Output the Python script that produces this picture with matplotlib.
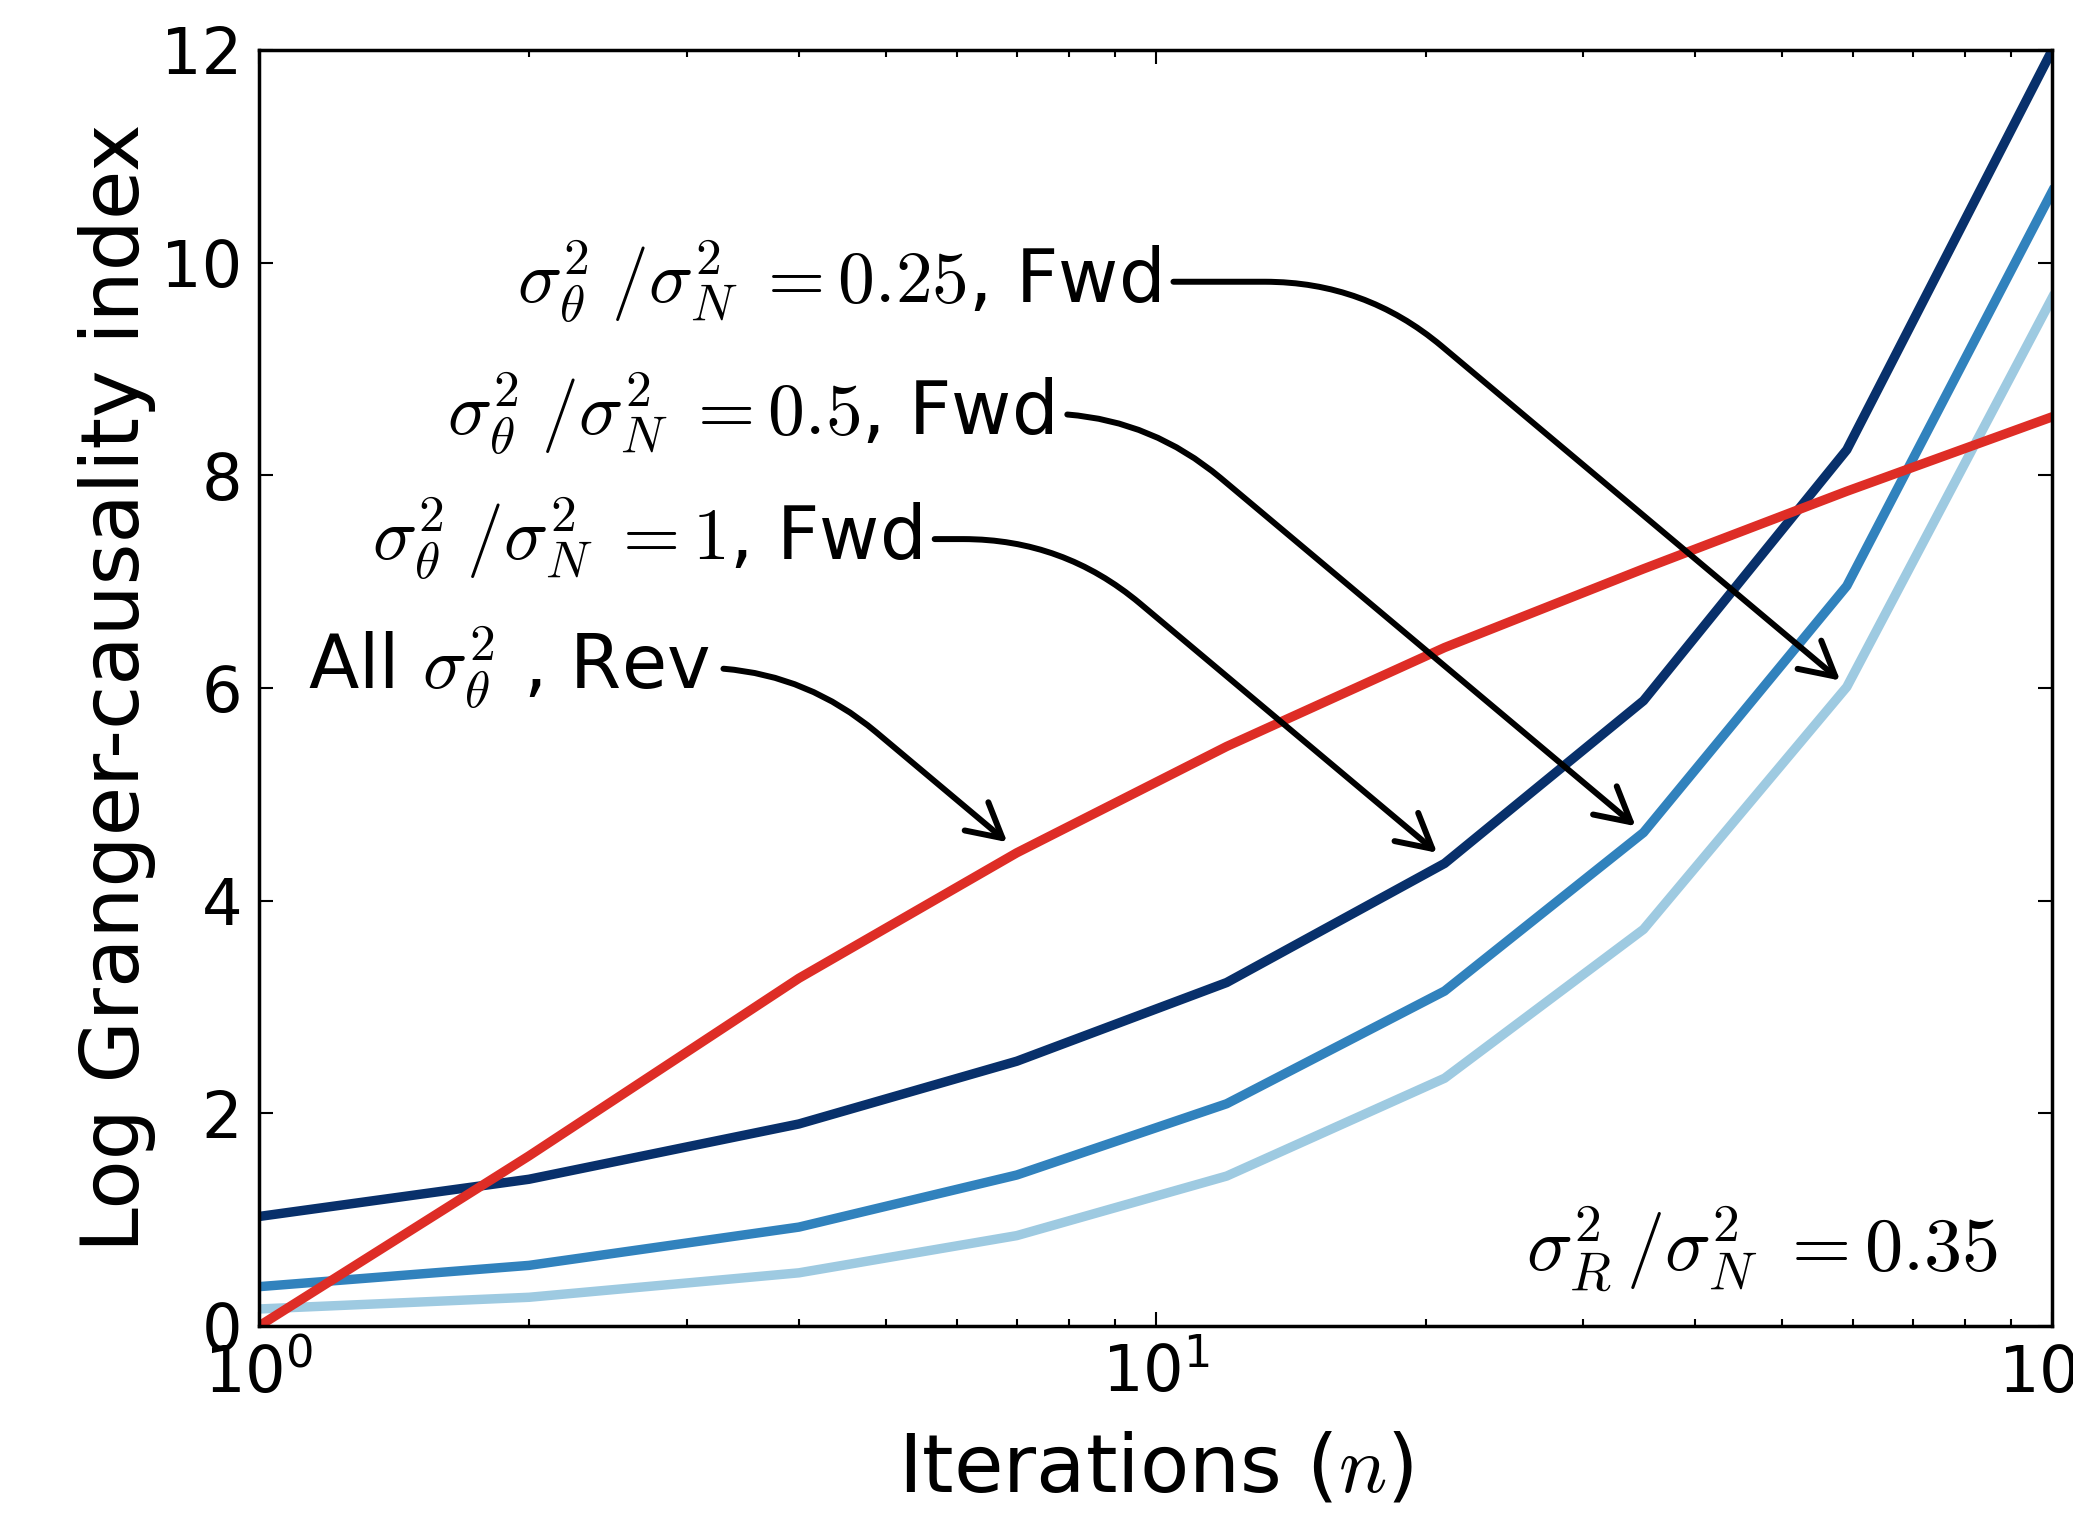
import numpy as np
import matplotlib
matplotlib.use('Agg')
import matplotlib.pyplot as plt

plt.rcParams['mathtext.fontset'] = 'cm'
plt.rcParams['font.family'] = 'DejaVu Sans'

# iterations and log Granger-causality values
n_iter = [1, 2, 4, 7, 12, 21, 35, 59, 100]
gc_fwd_025 = [1.03, 1.38, 1.90, 2.49, 3.23, 4.35, 5.88, 8.24, 12.0]
gc_fwd_05 = [0.37, 0.57, 0.93, 1.42, 2.09, 3.15, 4.64, 6.96, 10.67]
gc_fwd_1 = [0.16, 0.27, 0.50, 0.85, 1.41, 2.33, 3.73, 6.01, 9.67]
gc_rev = [0.0, 1.60, 3.27, 4.45, 5.45, 6.38, 7.12, 7.85, 8.55]

# annotations: label, text anchor (x, y), arrow tip (x, y)
ann_labels = [r'$\sigma_\theta^2\;/\sigma_N^2\;{=}0.25$, Fwd',
              r'$\sigma_\theta^2\;/\sigma_N^2\;{=}0.5$, Fwd',
              r'$\sigma_\theta^2\;/\sigma_N^2\;{=}1$, Fwd',
              r'All $\sigma_\theta^2$ , Rev']
ann_text = [(10.1, 9.82), (7.69, 8.58), (5.47, 7.40), (3.18, 6.19)]
ann_tip = [(58.0, 6.07), (34.3, 4.70), (20.6, 4.45), (6.83, 4.55)]

fig = plt.figure(figsize=(20.73, 15.13), dpi=100)
ax = fig.add_axes([0.125, 0.1236, 0.865, 0.8434])

ax.plot(n_iter, gc_fwd_025, '-', color='#08306b', lw=6.8)
ax.plot(n_iter, gc_fwd_05, '-', color='#3182bd', lw=6.8)
ax.plot(n_iter, gc_fwd_1, '-', color='#9ecae1', lw=6.8)
ax.plot(n_iter, gc_rev, '-', color='#de2d26', lw=6.8)

ax.set_xscale('log')
ax.set_xlim(1, 100)
ax.set_ylim(0, 12)
ax.set_yticks(range(0, 13, 2))

for lab, xt, xy in zip(ann_labels, ann_text, ann_tip):
    ax.annotate(lab, xy=xy, xytext=xt, ha='right', va='center', fontsize=53,
                arrowprops=dict(arrowstyle='->,head_length=0.46,head_width=0.25',
                                connectionstyle='angle,angleA=0,angleB=-40,rad=100',
                                lw=4.3, color='k', shrinkA=8, shrinkB=0))

ax.text(0.97, 0.06, r'$\sigma_R^2\,/\sigma_N^2\ {=}0.35$', transform=ax.transAxes,
        ha='right', va='center', fontsize=55)

ax.set_xlabel(r'Iterations ($n$)', fontsize=58, labelpad=18)
ax.set_ylabel('Log Granger-causality index', fontsize=58)

ax.tick_params(which='both', direction='in', top=True, right=True, labelsize=46, pad=12)
ax.tick_params(which='major', length=10, width=1.5)
ax.tick_params(which='minor', length=5, width=1.5)
for s in ax.spines.values():
    s.set_linewidth(2.5)

fig.savefig('out.png', dpi=100)
